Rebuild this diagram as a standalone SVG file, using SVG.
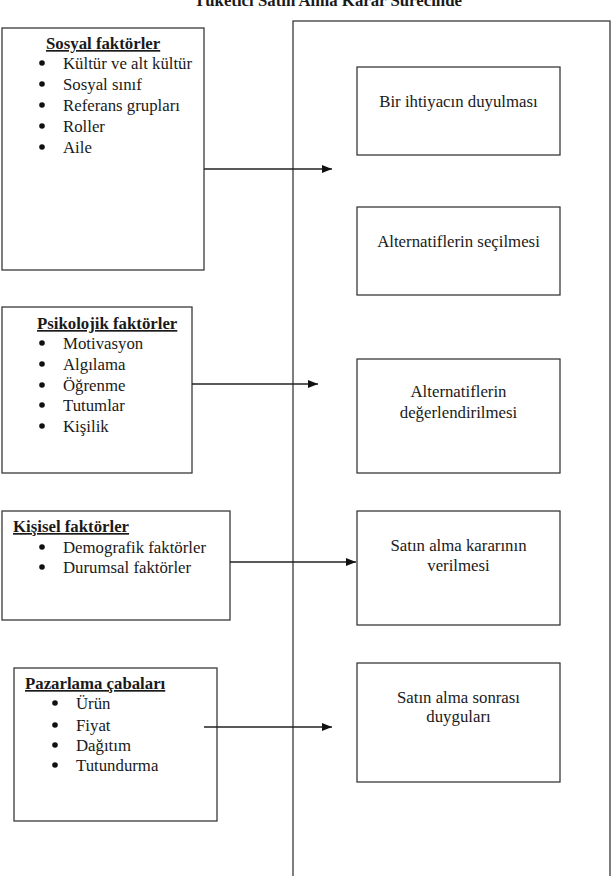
<svg xmlns="http://www.w3.org/2000/svg" width="615" height="876" viewBox="0 0 615 876">
<defs>
<style>
.box{fill:#fff;stroke:#3a3a3a;stroke-width:1.3}
.t{font-family:"Liberation Serif","Times New Roman",serif;font-size:16.8px;fill:#1a1a1a}
.h{font-weight:bold;text-decoration:underline}
.c{text-anchor:middle}
.b{fill:#111}
.con{stroke:#222;stroke-width:1.3;fill:none}
</style>
<marker id="ah" markerUnits="userSpaceOnUse" markerWidth="10" markerHeight="8" refX="10" refY="4" orient="auto">
<path d="M0,0 L10,4 L0,8 Z" fill="#111"/>
</marker>
</defs>
<rect width="615" height="876" fill="#fff"/>
<text class="t c" x="328" y="6" font-weight="bold">Tüketici Satın Alma Karar Sürecinde</text>

<g id="process-frame">
<rect class="box" x="293" y="21" width="317" height="900"/>
</g>

<g id="sosyal">
<rect class="box" x="2" y="28" width="202" height="242"/>
<text class="t h" x="46" y="49">Sosyal faktörler</text>
<circle class="b" cx="42" cy="63" r="2.8"/><text class="t" x="63" y="69">Kültür ve alt kültür</text>
<circle class="b" cx="42" cy="84" r="2.8"/><text class="t" x="63" y="90">Sosyal sınıf</text>
<circle class="b" cx="42" cy="105" r="2.8"/><text class="t" x="63" y="111">Referans grupları</text>
<circle class="b" cx="42" cy="126" r="2.8"/><text class="t" x="63" y="132">Roller</text>
<circle class="b" cx="42" cy="147" r="2.8"/><text class="t" x="63" y="153">Aile</text>
</g>

<g id="psikolojik">
<rect class="box" x="2" y="307" width="190" height="166"/>
<text class="t h" x="37" y="329">Psikolojik faktörler</text>
<circle class="b" cx="42" cy="343" r="2.8"/><text class="t" x="63" y="349">Motivasyon</text>
<circle class="b" cx="42" cy="364" r="2.8"/><text class="t" x="63" y="370">Algılama</text>
<circle class="b" cx="42" cy="385" r="2.8"/><text class="t" x="63" y="391">Öğrenme</text>
<circle class="b" cx="42" cy="405" r="2.8"/><text class="t" x="63" y="411">Tutumlar</text>
<circle class="b" cx="42" cy="426" r="2.8"/><text class="t" x="63" y="432">Kişilik</text>
</g>

<g id="kisisel">
<rect class="box" x="2" y="511" width="228" height="109"/>
<text class="t h" x="13" y="532">Kişisel faktörler</text>
<circle class="b" cx="42" cy="547" r="2.8"/><text class="t" x="63" y="553">Demografik faktörler</text>
<circle class="b" cx="42" cy="567" r="2.8"/><text class="t" x="63" y="573">Durumsal faktörler</text>
</g>

<g id="pazarlama">
<rect class="box" x="14" y="668" width="203" height="153"/>
<text class="t h" x="25" y="689">Pazarlama çabaları</text>
<circle class="b" cx="55" cy="703" r="2.8"/><text class="t" x="76" y="709">Ürün</text>
<circle class="b" cx="55" cy="725" r="2.8"/><text class="t" x="76" y="731">Fiyat</text>
<circle class="b" cx="55" cy="745" r="2.8"/><text class="t" x="76" y="751">Dağıtım</text>
<circle class="b" cx="55" cy="765" r="2.8"/><text class="t" x="76" y="771">Tutundurma</text>
</g>

<g id="step1">
<rect class="box" x="357" y="67" width="203" height="88"/>
<text class="t c" x="458.5" y="107">Bir ihtiyacın duyulması</text>
</g>
<g id="step2">
<rect class="box" x="357" y="207" width="203" height="88"/>
<text class="t c" x="458.5" y="247">Alternatiflerin seçilmesi</text>
</g>
<g id="step3">
<rect class="box" x="357" y="359" width="203" height="114"/>
<text class="t c" x="458.5" y="397">Alternatiflerin</text>
<text class="t c" x="458.5" y="418">değerlendirilmesi</text>
</g>
<g id="step4">
<rect class="box" x="357" y="511" width="203" height="114"/>
<text class="t c" x="458.5" y="551">Satın alma kararının</text>
<text class="t c" x="458.5" y="571">verilmesi</text>
</g>
<g id="step5">
<rect class="box" x="357" y="663" width="203" height="119"/>
<text class="t c" x="458.5" y="703">Satın alma sonrası</text>
<text class="t c" x="458.5" y="722">duyguları</text>
</g>

<g id="connectors">
<line class="con" x1="204" y1="169" x2="332" y2="169" marker-end="url(#ah)"/>
<line class="con" x1="192" y1="384" x2="318" y2="384" marker-end="url(#ah)"/>
<line class="con" x1="230" y1="562" x2="356" y2="562" marker-end="url(#ah)"/>
<line class="con" x1="204" y1="727" x2="332" y2="727" marker-end="url(#ah)"/>
</g>
</svg>
